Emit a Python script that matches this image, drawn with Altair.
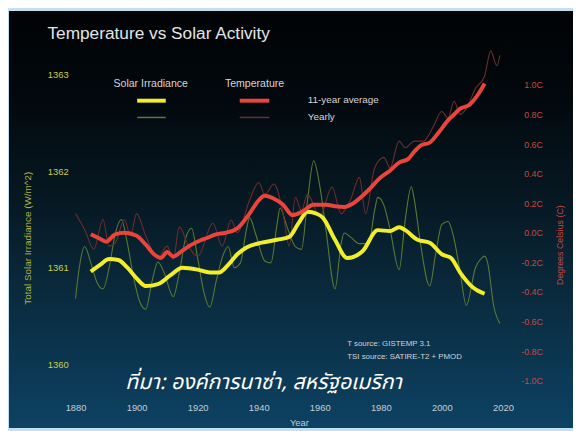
import altair as alt
import pandas as pd

# ---------------- data ----------------
tsi_avg_years = [1885, 1888, 1891, 1894, 1897, 1900, 1903, 1907, 1911, 1915, 1920, 1924, 1927,
                 1930, 1933, 1936, 1941, 1946, 1950, 1953, 1956, 1959, 1961, 1965, 1969, 1974,
                 1979, 1983, 1986, 1988, 1992, 1996, 2000, 2003, 2006, 2010, 2014]
tsi_avg_vals = [1360.96, 1361.03, 1361.09, 1361.08, 1361.00, 1360.89, 1360.81, 1360.83, 1360.92,
                1361.00, 1360.98, 1360.95, 1360.95, 1361.03, 1361.14, 1361.21, 1361.26, 1361.29,
                1361.32, 1361.46, 1361.58, 1361.56, 1361.52, 1361.29, 1361.10, 1361.17, 1361.39,
                1361.38, 1361.42, 1361.39, 1361.29, 1361.26, 1361.14, 1361.10, 1360.95, 1360.80,
                1360.73]

tsi_yr_years = [1880, 1881, 1883, 1885, 1887, 1889, 1891, 1893, 1895, 1897, 1899, 1901, 1903,
                1905, 1907, 1909, 1912, 1914, 1916, 1918, 1920, 1922, 1924, 1926, 1928, 1930,
                1932, 1934, 1936, 1937, 1939, 1942, 1944, 1946, 1947, 1949, 1952, 1954, 1956,
                1958, 1960, 1962, 1965, 1967, 1968, 1970, 1973, 1976, 1978, 1979, 1981, 1983,
                1986, 1988, 1990, 1991, 1993, 1996, 1998, 2000, 2002, 2004, 2006, 2008, 2011,
                2013, 2014, 2015, 2017, 2019]
tsi_yr_vals = [1360.68, 1360.95, 1361.22, 1361.05, 1360.85, 1360.78, 1361.00, 1361.35, 1361.50,
               1361.25, 1360.90, 1360.65, 1360.57, 1360.85, 1361.06, 1360.95, 1360.70, 1360.95,
               1361.30, 1361.41, 1361.10, 1360.75, 1360.59, 1360.85, 1361.10, 1361.22, 1361.00,
               1361.05, 1361.40, 1361.52, 1361.35, 1361.07, 1361.05, 1361.45, 1361.62, 1361.45,
               1361.22, 1361.19, 1361.70, 1362.11, 1361.85, 1361.40, 1360.78, 1361.25, 1361.36,
               1361.32, 1361.25, 1361.25, 1361.60, 1361.73, 1361.65, 1361.40, 1360.98, 1361.50,
               1361.84, 1361.70, 1361.25, 1360.81, 1361.15, 1361.45, 1361.48, 1361.30, 1360.95,
               1360.61, 1361.00, 1361.10, 1361.12, 1361.05, 1360.60, 1360.42]

temp_avg_years = [1885, 1888, 1890, 1893, 1896, 1900, 1903, 1906, 1908, 1910, 1912, 1915, 1918,
                  1921, 1923, 1926, 1929, 1933, 1937, 1940, 1942, 1945, 1948, 1951, 1954, 1958,
                  1962, 1965, 1968, 1971, 1974, 1976, 1980, 1983, 1986, 1989, 1991, 1993, 1996,
                  1999, 2002, 2004, 2006, 2009, 2012, 2014]
temp_avg_vals = [-0.01, -0.04, -0.06, -0.01, 0.00, -0.02, -0.08, -0.15, -0.17, -0.13, -0.16,
                 -0.12, -0.08, -0.05, -0.035, -0.01, 0.00, 0.03, 0.13, 0.22, 0.25, 0.23, 0.19,
                 0.12, 0.14, 0.19, 0.19, 0.18, 0.175, 0.20, 0.25, 0.29, 0.375, 0.42, 0.475,
                 0.50, 0.55, 0.59, 0.61, 0.68, 0.76, 0.80, 0.84, 0.865, 0.94, 1.01]

temp_yr_years = [1880, 1883, 1886, 1889, 1891, 1893, 1896, 1898, 1900, 1903, 1907, 1910, 1912,
                 1914, 1917, 1920, 1925, 1928, 1931, 1933, 1937, 1940, 1942, 1945, 1948, 1950,
                 1952, 1954, 1956, 1960, 1964, 1967, 1970, 1973, 1975, 1978, 1981, 1983, 1986,
                 1988, 1991, 1994, 1997, 2000, 2002, 2004, 2006, 2008, 2011, 2014, 2016, 2018,
                 2019]
temp_yr_vals = [0.13, 0.02, -0.11, 0.09, -0.09, -0.07, 0.09, -0.02, 0.13, -0.02, -0.17, -0.09,
                -0.18, 0.04, -0.09, -0.16, 0.065, -0.09, 0.087, 0.00, 0.22, 0.34, 0.26, 0.33,
                0.13, -0.09, 0.24, 0.15, 0.26, 0.11, 0.31, 0.13, 0.22, 0.375, 0.13, 0.44, 0.51,
                0.44, 0.62, 0.575, 0.62, 0.62, 0.71, 0.82, 0.775, 0.89, 0.80, 0.84, 0.975, 1.06,
                1.23, 1.13, 1.20]

x_ticks = [1880, 1900, 1920, 1940, 1960, 1980, 2000, 2020]
tsi_ticks = [1360, 1361, 1362, 1363]
temp_ticks = [-1.0, -0.8, -0.6, -0.4, -0.2, 0.0, 0.2, 0.4, 0.6, 0.8, 1.0]

# ---------------- layout / style ----------------
W, H = 573, 423
FONT = "Liberation Sans"
X_DOMAIN = [1857.875, 2042.953]
TSI_DOMAIN = [1359.3357, 1363.6653]
TEMP_DOMAIN = [-1.32, 1.5]

YELLOW = "#f2ef2a"
RED = "#e9453b"
GREEN = "#5b7a33"
DARKRED = "#6e2d2c"

tsi_avg = pd.DataFrame({"year": tsi_avg_years, "v": tsi_avg_vals})
tsi_yr = pd.DataFrame({"year": tsi_yr_years, "v": tsi_yr_vals})
temp_avg = pd.DataFrame({"year": temp_avg_years, "v": temp_avg_vals})
temp_yr = pd.DataFrame({"year": temp_yr_years, "v": temp_yr_vals})
one = pd.DataFrame({"a": [0]})

x_axis = alt.Axis(values=x_ticks, format="d", orient="bottom", offset=-26, domain=False,
                  ticks=False, tickSize=0, labelPadding=0, grid=False, labelFont=FONT,
                  labelFontSize=9.5, labelColor="#c3cdd6", labelFlush=False, labelOverlap=False,
                  title="Year", titleFont=FONT, titleFontSize=9.5, titleFontWeight="normal",
                  titleColor="#c3cdd6", titleX=295, titleY=20, titleBaseline="middle",
                  titleAlign="center", zindex=1)
x_enc = alt.X("year:Q", scale=alt.Scale(domain=X_DOMAIN, nice=False, zero=False), axis=x_axis)

tsi_axis = alt.Axis(values=tsi_ticks, format="d", orient="left", offset=-61, domain=False,
                    ticks=False, tickSize=0, labelPadding=0, grid=False, labelFont=FONT,
                    labelFontSize=9.5, labelColor="#cdcd45", labelOverlap=False,
                    title="Total Solar Irradiance (W/m^2)", titleFont=FONT, titleFontSize=10,
                    titleFontWeight="normal", titleColor="#b3b33c", titleX=-41, titleY=230,
                    titleAngle=270, titleAlign="center", titleBaseline="middle", zindex=1)
temp_axis = alt.Axis(values=temp_ticks,
                     labelExpr="(datum.value < 0 ? '-' : '') + format(abs(datum.value), '.1f') + 'C'",
                     orient="right", offset=-31, domain=False, ticks=False, tickSize=0,
                     labelPadding=0, labelAlign="right", grid=False, labelFont=FONT,
                     labelFontSize=9, labelColor="#c9473f", labelOverlap=False,
                     title="Degrees Celsius (C)", titleFont=FONT, titleFontSize=9,
                     titleFontWeight="normal", titleColor="#c9473f", titleX=17, titleY=237,
                     titleAngle=270, titleAlign="center", titleBaseline="middle", zindex=1)

bg = alt.Chart(one).mark_rect(
    color=alt.LinearGradient(
        gradient="linear",
        stops=[alt.GradientStop(offset=0, color="#010305"),
               alt.GradientStop(offset=0.2, color="#02080d"),
               alt.GradientStop(offset=0.45, color="#061822"),
               alt.GradientStop(offset=0.7, color="#0a2c40"),
               alt.GradientStop(offset=1, color="#0d4263")],
        x1=0, x2=0, y1=0, y2=1)
).encode(x=alt.value(1), x2=alt.value(W), y=alt.value(0), y2=alt.value(H))

green_line = alt.Chart(tsi_yr).mark_line(color=GREEN, strokeWidth=1.1, interpolate="monotone").encode(
    x=x_enc, y=alt.Y("v:Q", scale=alt.Scale(domain=TSI_DOMAIN, nice=False, zero=False), axis=None))
darkred_line = alt.Chart(temp_yr).mark_line(color=DARKRED, strokeWidth=1.1, interpolate="monotone").encode(
    x=x_enc, y=alt.Y("v:Q", scale=alt.Scale(domain=TEMP_DOMAIN, nice=False, zero=False), axis=None))
yellow_line = alt.Chart(tsi_avg).mark_line(color=YELLOW, strokeWidth=4, interpolate="monotone").encode(
    x=x_enc, y=alt.Y("v:Q", scale=alt.Scale(domain=TSI_DOMAIN, nice=False, zero=False), axis=tsi_axis))
red_line = alt.Chart(temp_avg).mark_line(color=RED, strokeWidth=4, interpolate="monotone").encode(
    x=x_enc, y=alt.Y("v:Q", scale=alt.Scale(domain=TEMP_DOMAIN, nice=False, zero=False), axis=temp_axis))


def txt(text, x, y, size, color, align="left", style="normal", font=FONT, baseline="alphabetic"):
    return alt.Chart(one).mark_text(text=text, align=align, baseline=baseline, fontSize=size,
                                    color=color, font=font, fontStyle=style).encode(
        x=alt.value(x), y=alt.value(y))


def swatch(x1, x2, y, color, w):
    return alt.Chart(one).mark_rule(color=color, strokeWidth=w).encode(
        x=alt.value(x1), x2=alt.value(x2), y=alt.value(y))


texts = [
    txt("Temperature vs Solar Activity", 40, 28.5, 17.5, "#e4e4e4"),
    txt("Solar Irradiance", 107, 77, 10.7, "#d6d6d6"),
    txt("Temperature", 220, 77, 10.7, "#d6d6d6"),
    txt("11-year average", 304, 93, 10, "#d6d6d6"),
    txt("Yearly", 304, 111, 10, "#d6d6d6"),
    txt("T source: GISTEMP 3.1", 344, 340, 8, "#d0d4d8"),
    txt("TSI source: SATIRE-T2 + PMOD", 344, 353, 8, "#d0d4d8"),
    txt("ที่มา: องค์การนาซ่า, สหรัฐอเมริกา", 119, 383, 21.5, "#ffffff", style="italic",
        font="Noto Sans Thai, Noto Sans, sans-serif"),
]
swatches = [
    swatch(131, 160, 91, YELLOW, 4),
    swatch(131, 160, 108, GREEN, 1.5),
    swatch(235, 265, 91, RED, 4),
    swatch(235, 265, 108, DARKRED, 1.5),
]

chart = alt.layer(bg, green_line, darkred_line, yellow_line, red_line, *swatches, *texts).resolve_scale(
    y="independent"
).properties(
    width=W, height=H, padding=0, autosize=alt.AutoSizeParams(type="none"), background="#c3dff0"
).configure_view(strokeWidth=0)

chart.save("out.html", embed_options={"renderer": "svg", "actions": False})
